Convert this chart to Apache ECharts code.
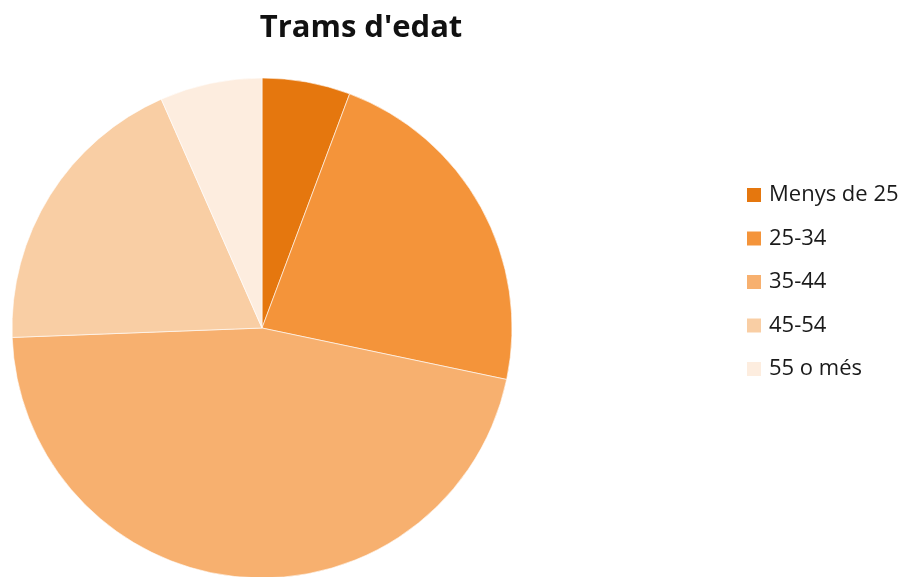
<!DOCTYPE html>
<html>
<head>
<meta charset="utf-8">
<script src="https://cdn.jsdelivr.net/npm/echarts@6/dist/echarts.min.js"></script>
<style>
  html, body { margin: 0; padding: 0; background: #fff; }
  #main { width: 908px; height: 577px; }
</style>
</head>
<body>
<div id="main"></div>
<script>
var categories = ['Menys de 25', '25-34', '35-44', '45-54', '55 o més'];
var values = [5.7, 22.6, 46.1, 19.0, 6.6];
var colors = ['#E5770E', '#F4943A', '#F7B06F', '#F9CEA4', '#FDEDDF'];

var myChart = echarts.init(document.getElementById('main'));

var data = categories.map(function (name, i) {
    return { name: name, value: values[i] };
});

var option = {
    color: colors,
    title: {
        text: "Trams d'edat",
        left: 356,
        top: 8,
        textAlign: 'center',
        textStyle: {
            fontFamily: 'Open Sans',
            fontSize: 31,
            fontWeight: 'bold',
            color: '#111'
        }
    },
    legend: {
        orient: 'vertical',
        left: 740,
        top: 179,
        itemWidth: 16,
        itemHeight: 16,
        itemGap: 21.5,
        icon: 'rect',
        textStyle: {
            fontFamily: 'Open Sans',
            fontSize: 22,
            color: '#1a1a1a',
            padding: [0, 0, 0, 2]
        },
        data: categories
    },
    series: [{
        type: 'pie',
        center: [262, 328],
        radius: 250,
        startAngle: 90,
        clockwise: true,
        label: { show: false },
        labelLine: { show: false },
        itemStyle: { borderColor: '#fff', borderWidth: 0.6 },
        emphasis: { disabled: true },
        animation: false,
        data: data
    }]
};

myChart.setOption(option);
</script>
</body>
</html>
